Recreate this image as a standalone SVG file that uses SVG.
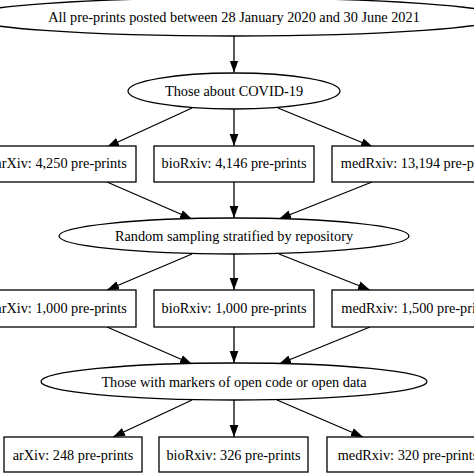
<svg xmlns="http://www.w3.org/2000/svg" width="474" height="474" viewBox="0 0 474 474">
<defs>
<style>
.n{fill:#fff;stroke:#000;stroke-width:1.3}
.t{font-family:"Liberation Serif","Times New Roman",serif;font-size:14.3px;fill:#000;text-anchor:middle}
.e{stroke:#000;stroke-width:1.3;fill:none;marker-end:url(#ah)}
</style>
<marker id="ah" markerUnits="userSpaceOnUse" markerWidth="12" markerHeight="10" viewBox="0 0 11 8" refX="11" refY="4" orient="auto">
<path d="M0,0 L11,4 L0,8 Z" fill="#000"/>
</marker>
</defs>
<rect width="474" height="474" fill="#fff"/>
<g id="connectors">
<path class="e" d="M234,36 L234,72.5"/>
<path class="e" d="M192,108 L107,147"/>
<path class="e" d="M234,109 L234,146"/>
<path class="e" d="M278,108 L373,147"/>
<path class="e" d="M107,182 L192,219"/>
<path class="e" d="M234,182 L234,218"/>
<path class="e" d="M372,182 L279,219"/>
<path class="e" d="M192,254 L107,290"/>
<path class="e" d="M234,254 L234,290"/>
<path class="e" d="M279,254 L370,290"/>
<path class="e" d="M107,327 L192,364"/>
<path class="e" d="M234,327 L234,363"/>
<path class="e" d="M370,327 L279,364"/>
<path class="e" d="M192,400 L113,437"/>
<path class="e" d="M234,400 L234,437"/>
<path class="e" d="M277,400 L363,437"/>
</g>
<g id="all"><ellipse class="n" cx="234" cy="17" rx="268" ry="19"/><text class="t" x="234" y="22">All pre-prints posted between 28 January 2020 and 30 June 2021</text></g>
<g id="covid"><ellipse class="n" cx="234" cy="91" rx="106" ry="18"/><text class="t" x="234" y="96">Those about COVID-19</text></g>
<g id="arxiv1"><rect class="n" x="-20" y="146" width="156" height="36"/><text class="t" x="61" y="168">arXiv: 4,250 pre-prints</text></g>
<g id="biorxiv1"><rect class="n" x="154" y="146" width="160" height="36"/><text class="t" x="234" y="168">bioRxiv: 4,146 pre-prints</text></g>
<g id="medrxiv1"><rect class="n" x="332" y="146" width="176" height="36"/><text class="t" x="420" y="168">medRxiv: 13,194 pre-prints</text></g>
<g id="sampling"><ellipse class="n" cx="234" cy="236" rx="175" ry="18"/><text class="t" x="234" y="241">Random sampling stratified by repository</text></g>
<g id="arxiv2"><rect class="n" x="-20" y="290" width="156" height="37"/><text class="t" x="61" y="313">arXiv: 1,000 pre-prints</text></g>
<g id="biorxiv2"><rect class="n" x="154" y="290" width="160" height="37"/><text class="t" x="234" y="313">bioRxiv: 1,000 pre-prints</text></g>
<g id="medrxiv2"><rect class="n" x="332" y="290" width="170" height="37"/><text class="t" x="417" y="313">medRxiv: 1,500 pre-prints</text></g>
<g id="open"><ellipse class="n" cx="234" cy="381.5" rx="193" ry="18.5"/><text class="t" x="234" y="387">Those with markers of open code or open data</text></g>
<g id="arxiv3"><rect class="n" x="4" y="437" width="138" height="35"/><text class="t" x="73" y="460">arXiv: 248 pre-prints</text></g>
<g id="biorxiv3"><rect class="n" x="159" y="437" width="149" height="35"/><text class="t" x="233.5" y="460">bioRxiv: 326 pre-prints</text></g>
<g id="medrxiv3"><rect class="n" x="327" y="437" width="158" height="35"/><text class="t" x="408" y="460">medRxiv: 320 pre-prints</text></g>
</svg>
